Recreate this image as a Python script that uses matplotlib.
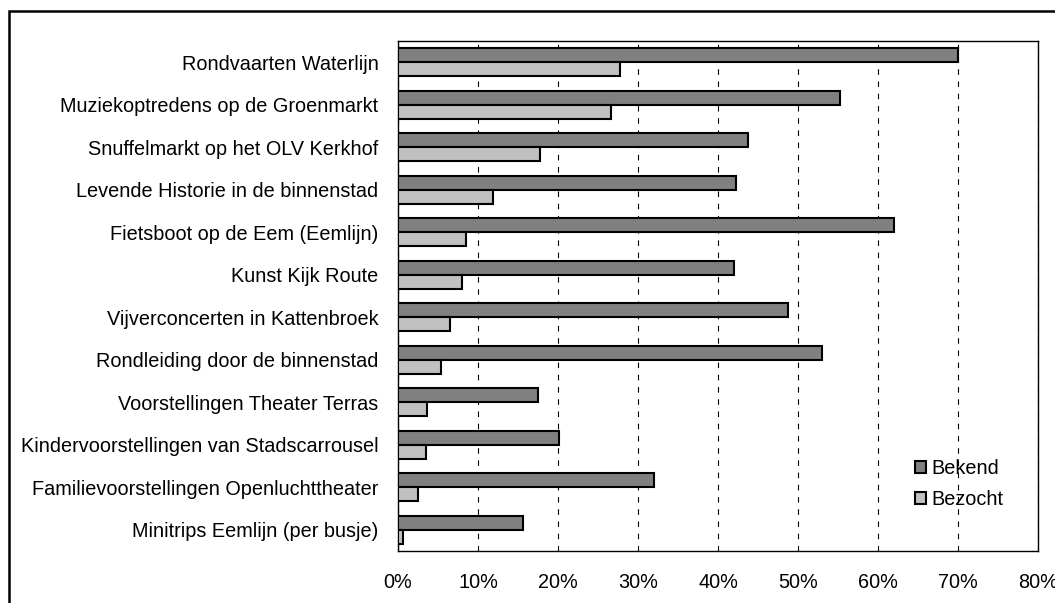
import numpy as np
import matplotlib.pyplot as plt
from matplotlib.patches import Rectangle

plt.rcParams['font.family'] = ['Liberation Sans', 'DejaVu Sans']

categories = [
    "Rondvaarten Waterlijn",
    "Muziekoptredens op de Groenmarkt",
    "Snuffelmarkt op het OLV Kerkhof",
    "Levende Historie in de binnenstad",
    "Fietsboot op de Eem (Eemlijn)",
    "Kunst Kijk Route",
    "Vijverconcerten in Kattenbroek",
    "Rondleiding door de binnenstad",
    "Voorstellingen Theater Terras",
    "Kindervoorstellingen van Stadscarrousel",
    "Familievoorstellingen Openluchttheater",
    "Minitrips Eemlijn (per busje)",
]
bekend = [70.0, 55.3, 43.7, 42.25, 62.0, 42.0, 48.7, 53.0, 17.5, 20.1, 32.0, 15.6]
bezocht = [27.7, 26.6, 17.75, 11.9, 8.5, 8.0, 6.5, 5.4, 3.6, 3.5, 2.5, 0.6]
xticks = [0, 10, 20, 30, 40, 50, 60, 70, 80]

FS = 14.3
W, H = 1055, 603
fig = plt.figure(figsize=(W / 100, H / 100), dpi=100)
# axes box in pixels: left 398, right 1038, top 41, bottom 551
ax = fig.add_axes([398 / W, 1 - 551 / H, 640 / W, 510 / H])

y = np.arange(len(categories))
h = 1 / 3
ax.barh(y - h / 2, bekend, height=h, color='#808080', edgecolor='black', linewidth=1.5, label='Bekend', zorder=3)
ax.barh(y + h / 2, bezocht, height=h, color='#c0c0c0', edgecolor='black', linewidth=1.5, label='Bezocht', zorder=3)

ax.set_ylim(len(categories) - 0.5, -0.5)
ax.set_xlim(0, 80)
ax.set_yticks(y)
ax.set_yticklabels(categories, fontsize=FS)
ax.set_xticks(xticks)
ax.set_xticklabels([f"{v}%" for v in xticks], fontsize=FS)
ax.tick_params(axis='both', length=0)
ax.tick_params(axis='y', pad=14)
ax.tick_params(axis='x', pad=16)

ax.xaxis.grid(True, color='black', linewidth=0.8, linestyle=(0, (5, 6)), zorder=1)
for s in ax.spines.values():
    s.set_linewidth(1.0)

ax.legend(loc='center left', bbox_to_anchor=(897 / W, 1 - 484 / H), bbox_transform=fig.transFigure,
          frameon=False, fontsize=FS, handlelength=0.55, handleheight=0.55, handletextpad=0.3,
          labelspacing=0.65)

# chart area border (cropped on the right and bottom)
fig.patches.append(Rectangle((9 / W, -0.1), 1.2, 1.1 - 11 / H, transform=fig.transFigure,
                             fill=False, edgecolor='black', linewidth=1.8))

fig.savefig('out.png', dpi=100)
